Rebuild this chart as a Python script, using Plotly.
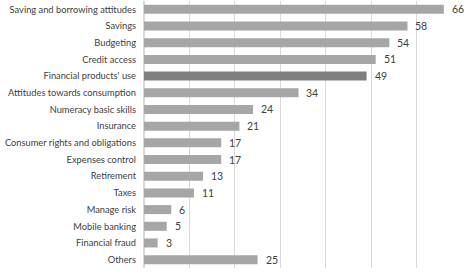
import plotly.graph_objects as go

categories = ["Saving and borrowing attitudes", "Savings", "Budgeting", "Credit access",
              "Financial products' use", "Attitudes towards consumption", "Numeracy basic skills",
              "Insurance", "Consumer rights and obligations", "Expenses control", "Retirement",
              "Taxes", "Manage risk", "Mobile banking", "Financial fraud", "Others"]
values = [66, 58, 54, 51, 49, 34, 24, 21, 17, 17, 13, 11, 6, 5, 3, 25]
highlight = "Financial products' use"

colors = ["#7f7f7f" if c == highlight else "#a6a6a6" for c in categories]
FONT = "Lato, sans-serif"

fig = go.Figure(go.Bar(
    x=values, y=categories, orientation="h",
    marker=dict(color=colors, line=dict(width=0)),
    width=0.54, hoverinfo="skip",
))

for c, v in zip(categories, values):
    fig.add_annotation(x=v, y=c, text=str(v), showarrow=False, xanchor="left",
                       xshift=6, font=dict(family=FONT, size=10.5, color="#404040"))

fig.update_layout(
    width=466, height=275,
    margin=dict(l=144, r=4, t=1, b=7),
    paper_bgcolor="white", plot_bgcolor="white",
    showlegend=False,
    font=dict(family=FONT, size=9.3, color="#404040"),
    xaxis=dict(range=[0, 70], dtick=10, showticklabels=False, showgrid=True,
               gridcolor="#d9d9d9", gridwidth=1, zeroline=True, zerolinecolor="#d9d9d9",
               showline=False, fixedrange=True, automargin=False),
    yaxis=dict(autorange="reversed", showgrid=False, ticks="", ticklabelstandoff=7,
               showline=False, fixedrange=True, automargin=False),
)

fig.write_html("out.html", config={"displayModeBar": False},
               post_script="document.body.style.margin='0';")
